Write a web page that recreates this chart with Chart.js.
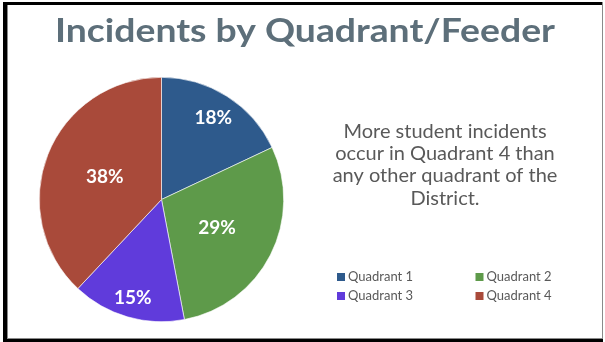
<!DOCTYPE html>
<html>
<head>
<meta charset="utf-8">
<script src="https://cdn.jsdelivr.net/npm/chart.js@4/dist/chart.umd.min.js"></script>
<style>
  html, body { margin: 0; padding: 0; background: #ffffff; }
  #wrap { position: relative; width: 605px; height: 342px; }
</style>
</head>
<body>
<div id="wrap"><canvas id="pieChart" width="605" height="342"></canvas></div>
<script>
// chart data
const labels = ["Quadrant 1", "Quadrant 2", "Quadrant 3", "Quadrant 4"];
const shares = [18, 29, 15, 38];
const colors = ["#2E5A8C", "#5E9A4A", "#603BDB", "#A94A3A"];

const titleText = "Incidents by Quadrant/Feeder";
const noteLines = [
    "More student incidents",
    "occur in Quadrant 4 than",
    "any other quadrant of the",
    "District."
];

// how far out each % label sits (fraction of radius)
const labelRadius = [0.79, 0.51, 0.84, 0.5];

const decorPlugin = {
    id: "decor",
    beforeDraw(chart) {
        const ctx = chart.ctx;
        ctx.save();
        ctx.fillStyle = "#ffffff";
        ctx.fillRect(0, 0, chart.width, chart.height);
        // frame
        ctx.fillStyle = "#000000";
        ctx.fillRect(3, 2, 600, 3);
        ctx.fillRect(3, 2, 4, 340);
        ctx.fillRect(3, 339, 600, 3);
        ctx.fillStyle = "#8a8a8a";
        ctx.fillRect(7, 338, 596, 1);
        ctx.fillRect(7, 5, 1, 333);
        ctx.fillRect(602, 2, 1, 337);
        ctx.restore();
    },
    afterDraw(chart) {
        const ctx = chart.ctx;
        ctx.save();

        // title
        ctx.fillStyle = "#5D6F7A";
        ctx.font = "bold 33px Lato";
        ctx.textAlign = "center";
        ctx.textBaseline = "alphabetic";
        const tw = ctx.measureText(titleText).width;
        const sx = 500 / tw;
        ctx.save();
        ctx.translate(305, 42);
        ctx.scale(sx, 1);
        ctx.fillText(titleText, 0, 0);
        ctx.restore();

        // percentage labels
        const meta = chart.getDatasetMeta(0);
        ctx.font = "bold 19px Lato";
        ctx.fillStyle = "#ffffff";
        ctx.textBaseline = "middle";
        meta.data.forEach((arc, i) => {
            const mid = (arc.startAngle + arc.endAngle) / 2;
            const r = arc.outerRadius * labelRadius[i];
            const x = arc.x + Math.cos(mid) * r;
            const y = arc.y + Math.sin(mid) * r;
            ctx.fillText(shares[i] + "%", x, y);
        });

        // side note
        ctx.fillStyle = "#595959";
        ctx.font = "20px Lato";
        ctx.textBaseline = "alphabetic";
        noteLines.forEach((line, i) => {
            ctx.fillText(line, 445, 138 + i * 22.2);
        });

        // legend, two columns
        ctx.font = "13px Lato";
        ctx.textAlign = "left";
        labels.forEach((lab, i) => {
            const col = i % 2;
            const row = Math.floor(i / 2);
            const x = 337 + col * 138.5;
            const y = 273 + row * 19;
            ctx.fillStyle = colors[i];
            ctx.fillRect(x, y, 8, 8);
            ctx.fillStyle = "#595959";
            ctx.fillText(lab, x + 11, y + 8);
        });

        ctx.restore();
    }
};

new Chart(document.getElementById("pieChart"), {
    type: "pie",
    data: {
        labels: labels,
        datasets: [{
            data: shares,
            backgroundColor: colors,
            borderColor: "#ffffff",
            borderWidth: 0.6
        }]
    },
    options: {
        responsive: false,
        animation: false,
        layout: {
            padding: { left: 39, right: 321, top: 77, bottom: 20 }
        },
        plugins: {
            legend: { display: false },
            title: { display: false },
            tooltip: { enabled: false }
        }
    },
    plugins: [decorPlugin]
});
</script>
</body>
</html>
